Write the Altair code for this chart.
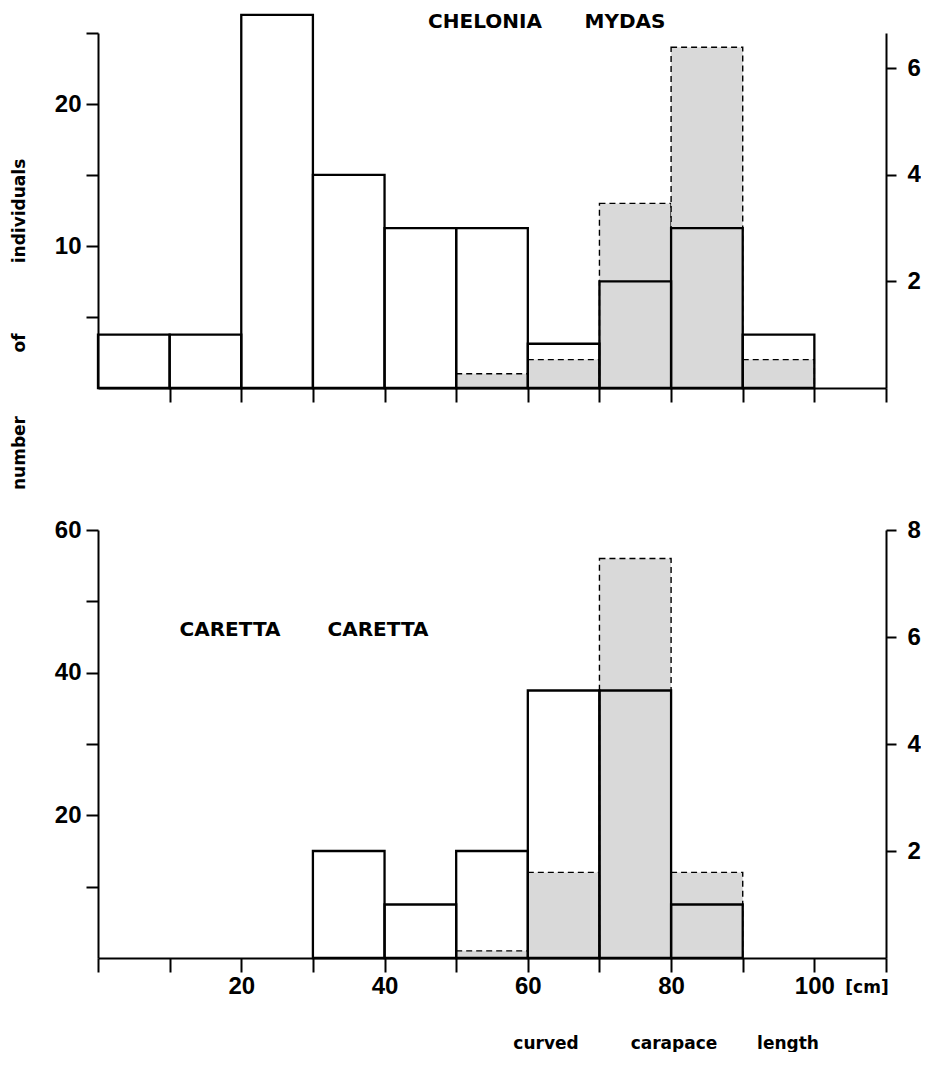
import altair as alt
import pandas as pd

# ---- data ----
bin_start = [0, 10, 20, 30, 40, 50, 60, 70, 80, 90, 100]
bin_end = [10, 20, 30, 40, 50, 60, 70, 80, 90, 100, 110]

# Chelonia mydas
cm_solid = [1, 1, 7, 4, 3, 3, 0.83, 2, 3, 1, 0]      # right axis
cm_dashed = [0, 0, 0, 0, 0, 1, 2, 13, 24, 2, 0]      # left axis
# Caretta caretta
cc_solid = [0, 0, 0, 2, 1, 2, 5, 5, 1, 0, 0]         # right axis
cc_dashed = [0, 0, 0, 0, 0, 1, 12, 56, 12, 0, 0]     # left axis

x_ticks = [0, 10, 20, 30, 40, 50, 60, 70, 80, 90, 100, 110]
top_left_ticks = [5, 10, 15, 20, 25]
top_right_ticks = [2, 4, 6]
bot_left_ticks = [10, 20, 30, 40, 50, 60]
bot_right_ticks = [2, 4, 6, 8]

W = 788
H_TOP = 355
H_BOT = 428
NUM_FONT = "Liberation Sans"
TXT_FONT = "DejaVu Sans"


def frame(vals):
    rows = [
        {"x0": a, "x1": b, "v": v}
        for a, b, v in zip(bin_start, bin_end, vals)
        if v > 0
    ]
    return pd.DataFrame(rows)


def yaxis(values, orient, label_every):
    left = orient == "left"
    return alt.Axis(
        orient=orient,
        values=values,
        labelExpr=f"datum.value % {label_every} == 0 ? datum.label : ''",
        title=None,
        grid=False,
        tickSize=12 if left else 10,
        tickWidth=2,
        tickColor="black",
        domainWidth=2,
        domainColor="black",
        labelFont=NUM_FONT,
        labelFontSize=24,
        labelFontWeight="bold",
        labelColor="black",
        labelPadding=5 if left else 11,
    )


def xaxis(values, show_labels):
    kw = dict(
        values=values,
        title=None,
        grid=False,
        tickSize=14,
        tickWidth=2,
        tickColor="black",
        domainWidth=2,
        domainColor="black",
    )
    if show_labels:
        kw.update(
            labelExpr="(datum.value % 20 == 0 && datum.value > 0 && datum.value <= 100) ? datum.label : ''",
            labelFont=NUM_FONT,
            labelFontSize=24,
            labelFontWeight="bold",
            labelColor="black",
            labelPadding=2,
            labelFlush=False,
        )
    else:
        kw.update(labels=False)
    return alt.Axis(**kw)


def word(t, px, py, size=20, angle=0):
    return alt.Chart(pd.DataFrame({"t": [t]})).mark_text(
        font=TXT_FONT, fontSize=size, fontWeight="bold", color="black",
        angle=angle, align="center", baseline="middle",
    ).encode(text="t:N", x=alt.value(px), y=alt.value(py))


def panel(solid, dashed, left_dom, right_dom, left_ticks, right_ticks,
          left_every, height, xax, texts):
    xs = alt.Scale(domain=[0, 110], nice=False, zero=False)
    dash = alt.Chart(frame(dashed)).mark_bar(
        fill="#d9d9d9", stroke="black", strokeWidth=1.4, strokeDash=[6, 4],
    ).encode(
        x=alt.X("x0:Q", scale=xs, axis=xax),
        x2="x1:Q",
        y=alt.Y("v:Q", scale=alt.Scale(domain=left_dom, nice=False),
                axis=yaxis(left_ticks, "left", left_every)),
        y2=alt.datum(0),
    )
    sol = alt.Chart(frame(solid)).mark_bar(
        fillOpacity=0, fill="white", stroke="black", strokeWidth=2.3,
    ).encode(
        x=alt.X("x0:Q", scale=xs, axis=xax),
        x2="x1:Q",
        y=alt.Y("v:Q", scale=alt.Scale(domain=right_dom, nice=False),
                axis=yaxis(right_ticks, "right", 2)),
        y2=alt.datum(0),
    )
    return alt.layer(dash, sol, *texts).resolve_scale(y="independent").properties(
        width=W, height=height
    )


top = panel(
    cm_solid, cm_dashed, [0, 25], [0, 6.66], top_left_ticks, top_right_ticks, 10,
    H_TOP, xaxis(x_ticks[1:], False),
    [
        word("CHELONIA", 387, -11),
        word("MYDAS", 527, -11),
        word("individuals", -78, 178, 17, 270),
        word("of", -78, 310, 17, 270),
        word("number", -78, 420, 17, 270),
    ],
)

bottom = panel(
    cc_solid, cc_dashed, [0, 60], [0, 8], bot_left_ticks, bot_right_ticks, 20,
    H_BOT, xaxis(x_ticks, True),
    [
        word("CARETTA", 132, 100),
        word("CARETTA", 280, 100),
        word("[cm]", 769, 458, 17),
        word("curved", 448, 514, 17),
        word("carapace", 576, 514, 17),
        word("length", 690, 514, 17),
    ],
)

chart = alt.vconcat(top, bottom, spacing=27).resolve_scale(
    x="independent", y="independent"
).properties(
    padding={"left": 3, "top": 4, "right": 0, "bottom": 0},
    background="white",
).configure_view(stroke=None)

chart.save("out.html", embed_options={"renderer": "svg", "actions": False})
